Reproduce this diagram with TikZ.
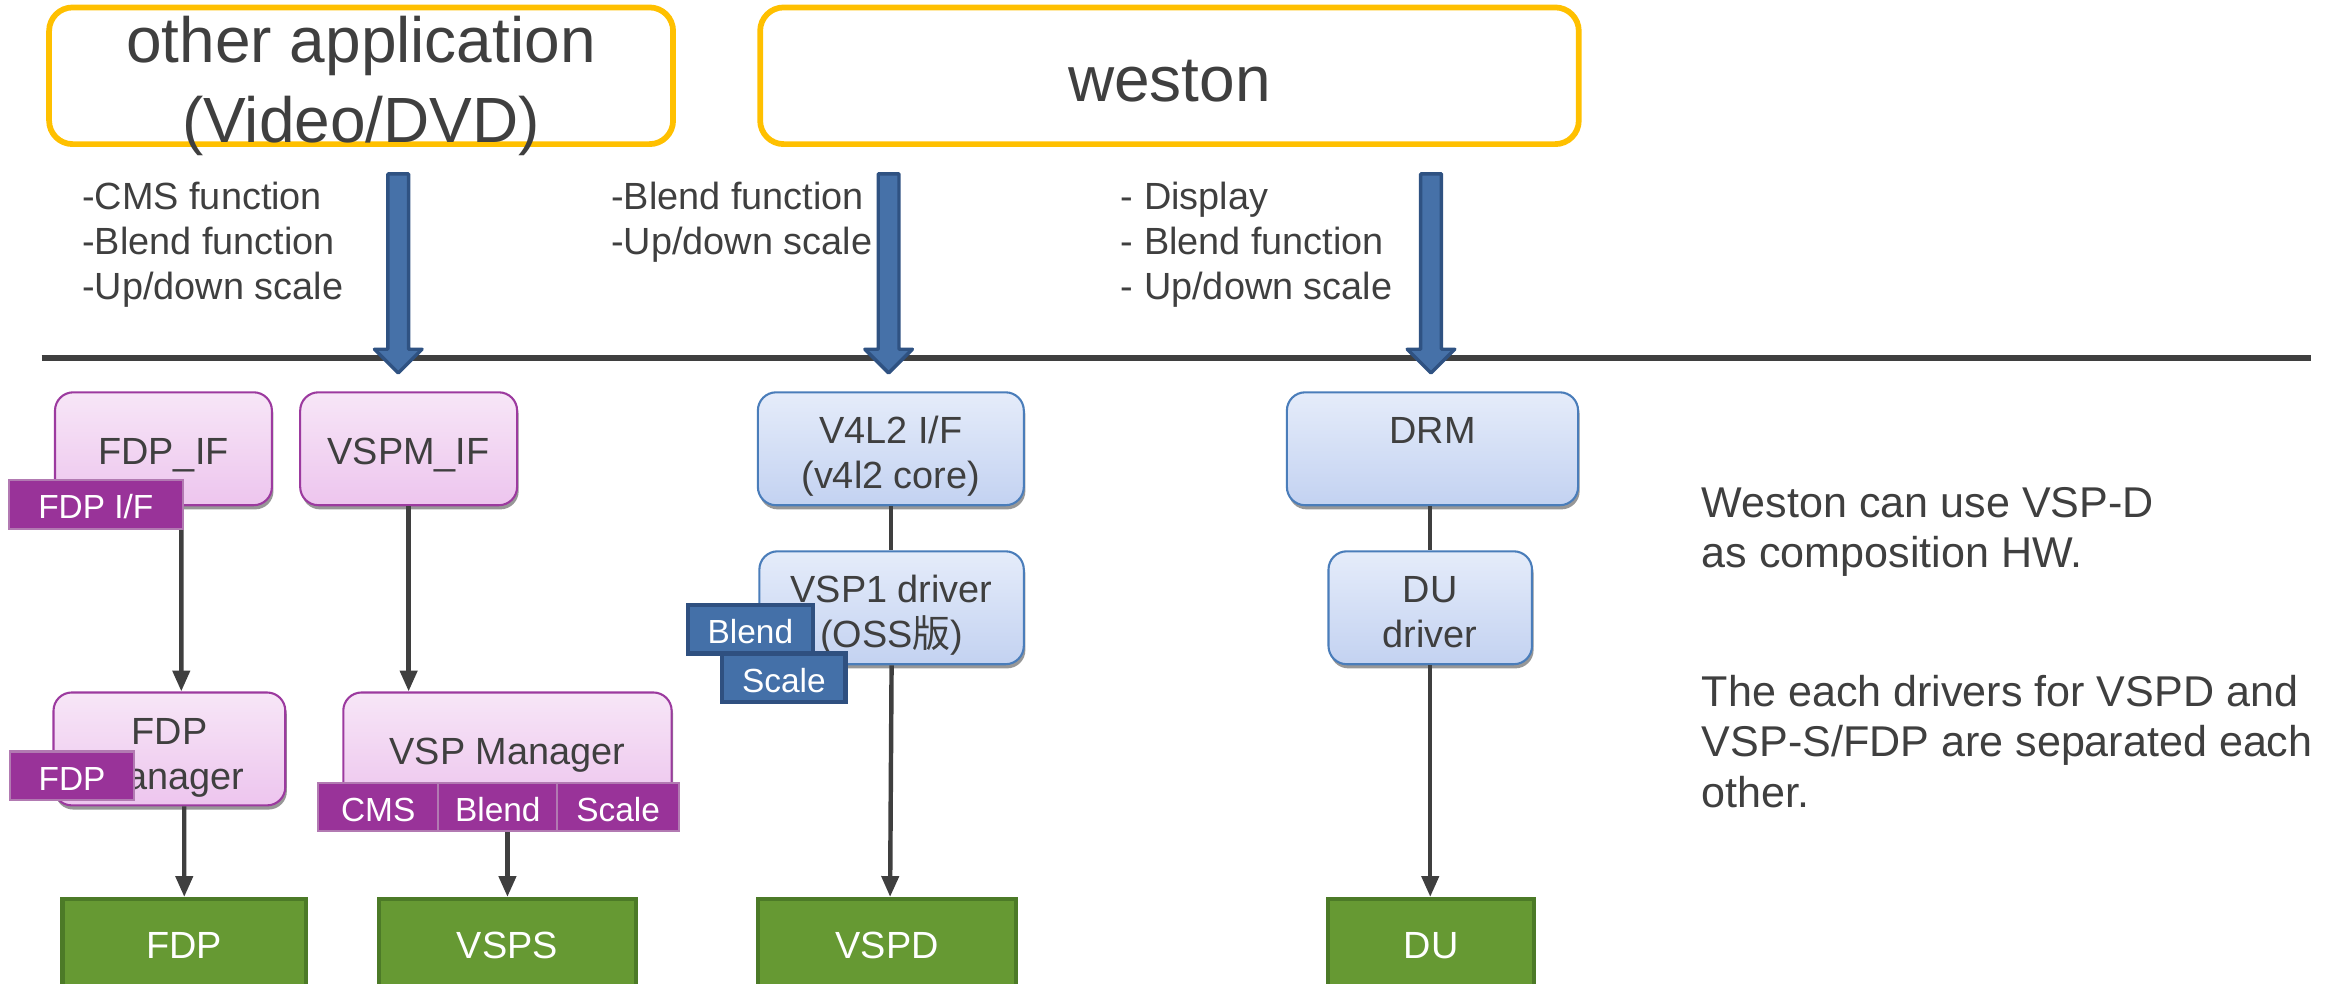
\documentclass[tikz,border=0pt]{standalone}
\usepackage{fontspec}
\setmainfont{Liberation Sans}
\newfontfamily\cjkfont{Noto Sans CJK JP}
\usetikzlibrary{arrows.meta,shadows,calc}
\newcommand\lostrut{\rule[-0.212em]{0pt}{1.117em}}
\newcommand\histrut[1]{\rule[-0.212em]{0pt}{\dimexpr 1.117em+#1\relax}}
\newcommand\mtop{\rule{0pt}{\dimexpr 0.905em+3.5pt\relax}}
\definecolor{txt}{HTML}{3F3F3F}
\definecolor{appyellow}{HTML}{FFC000}
\definecolor{barfill}{HTML}{4671A8}
\definecolor{barline}{HTML}{2F5282}
\definecolor{pinktop}{HTML}{F7E6F7}
\definecolor{pinkbot}{HTML}{EDC5EE}
\definecolor{pinkline}{HTML}{9C3A9F}
\definecolor{tagpurple}{HTML}{993399}
\definecolor{tagpline}{HTML}{B27AB2}
\definecolor{bluetop}{HTML}{E5ECFA}
\definecolor{bluebot}{HTML}{C3D2F1}
\definecolor{blueline}{HTML}{4A7DBA}
\definecolor{tagblue}{HTML}{4470A8}
\definecolor{tagbline}{HTML}{2F5080}
\definecolor{greenfill}{HTML}{669933}
\definecolor{greenline}{HTML}{4C7A27}
\begin{document}
\begin{tikzpicture}[x=0.02cm,y=-0.02cm,
  basefont/.style={font=\fontsize{14.5}{17.2}\selectfont, text=txt},
  strutted/.style={execute at begin node={\histrut{#1}}, execute at end node=\lostrut},
  strutted/.default=0pt,
  appbox/.style={draw=appyellow, line width=2.2pt, rounded corners=9pt, minimum height=1.84cm},
  titletext/.style={font=\fontsize{24.5}{30.6}\selectfont, text=txt, align=center, strutted, yshift=-1.2pt},
  note/.style={basefont, align=left, anchor=west, inner sep=0pt},
  sidenote/.style={font=\fontsize{16.5}{19.4}\selectfont, text=txt, align=left, anchor=west, inner sep=0pt},
  pinkbox/.style={basefont, align=center, strutted=2pt, draw=pinkline, line width=0.8pt, top color=pinktop, bottom color=pinkbot, rounded corners=7pt, minimum height=1.52cm, inner sep=1pt,
     drop shadow={shadow xshift=0.6pt, shadow yshift=-1.6pt, fill=black!45, opacity=0.9}},
  bluebox/.style={pinkbox, draw=blueline, top color=bluetop, bottom color=bluebot},
  ptag/.style={font=\fontsize{12.8}{15}\selectfont, strutted=2.2pt, text=white, fill=tagpurple, draw=tagpline, line width=0.8pt, minimum height=0.63cm, inner sep=1pt},
  btag/.style={ptag, fill=tagblue, draw=tagbline, line width=1.6pt},
  hwbox/.style={basefont, strutted, text=white, fill=greenfill, draw=greenline, line width=1.6pt, minimum height=1.24cm},
  conn/.style={draw=txt, line width=1.7pt},
  connarr/.style={conn, -{Triangle[length=8pt,width=6.5pt]}},
  barrow/.style={fill=barfill, draw=barline, line width=1.3pt, line join=round},
  bigarrow/.pic={\path[barrow] (-7,117) -- (7,117) -- (7,235) -- (16,235) -- (0,251) -- (-16,235) -- (-7,235) -- cycle;}
]
\clip (0,0) rectangle (1568,662);
\useasboundingbox (0,0) rectangle (1568,662);

% application boxes
\node[appbox, minimum width=8.4cm, label={[titletext, yshift=-2.8pt]center:other application\\(Video/DVD)}] (other) at (243,51) {};
\node[appbox, minimum width=11.02cm, label={[titletext]center:weston}] (weston) at (787,51) {};

% function notes
\node[note] (n1) at (55,164.5) {-CMS function\\-Blend function\\-Up/down scale};
\node[note] (n2) at (411,149.5) {-Blend function\\-Up/down scale};
\node[note] (n3) at (754,164.5) {- Display\\- Blend function\\- Up/down scale};

% separator line
\coordinate (lineL) at (28,241);
\coordinate (lineR) at (1555,241);
\draw[draw=txt, line width=2.3pt] (lineL) -- (lineR);

% big blue arrows
\pic at (268,0) {bigarrow};
\pic at (598,0) {bigarrow};
\pic at (963,0) {bigarrow};

% software boxes
\node[pinkbox, minimum width=2.92cm] (fdpif) at (110,302) {FDP\_IF};
\node[pinkbox, minimum width=2.92cm] (vspmif) at (275,302) {VSPM\_IF};
\node[bluebox, minimum width=3.58cm] (v4l2) at (599.5,302) {\mtop V4L2 I/F\\(v4l2 core)};
\node[bluebox, minimum width=3.92cm] (drm) at (964,302) {\mtop DRM\\~};
\node[bluebox, minimum width=3.56cm] (vsp1) at (600,409) {\mtop VSP1 driver\\(OSS{\cjkfont 版})};
\node[bluebox, minimum width=2.74cm] (dudrv) at (962.5,409) {\mtop DU\\driver};
\node[pinkbox, minimum width=3.12cm] (fdpman) at (114,504) {\mtop FDP\\Manager};
\node[pinkbox, minimum width=4.42cm] (vspman) at (341.5,504) {VSP Manager};

% hardware boxes
\node[hwbox, minimum width=3.28cm] (fdp) at (124,636) {FDP};
\node[hwbox, minimum width=3.46cm] (vsps) at (341.5,636) {VSPS};
\node[hwbox, minimum width=3.48cm] (vspd) at (597,636) {VSPD};
\node[hwbox, minimum width=2.78cm] (du) at (963,636) {DU};

% connectors
\draw[connarr] ([xshift=0.24cm]fdpif.south) -- ([xshift=0.16cm]fdpman.north);
\draw[connarr] (vspmif.south) -- (vspmif.south |- vspman.north);
\draw[conn] (v4l2.south) -- (v4l2.south |- vsp1.north);
\draw[connarr] (vsp1.south) -- ([xshift=0.04cm]vspd.north);
\draw[conn] (dudrv.north |- drm.south) -- (dudrv.north);
\draw[connarr] (dudrv.south) -- (dudrv.south |- du.north);
\draw[connarr] ([xshift=0.2cm]fdpman.south) -- (fdp.north);

% function tags
\node[ptag, minimum width=2.34cm] (tfdpif) at (64.5,339.5) {FDP I/F};
\node[ptag, minimum width=1.66cm] (tfdp) at (48.5,522) {FDP};
\node[ptag, minimum width=1.62cm] (tcms) at (254.5,543) {CMS};
\node[ptag, minimum width=1.60cm] (tblend) at (335,543) {Blend};
\node[ptag, minimum width=1.64cm] (tscale) at (416,543) {Scale};
\node[btag, minimum width=1.68cm] (bblend) at (505,423.5) {Blend};
\node[btag, minimum width=1.66cm] (bscale) at (527.5,456) {Scale};

\draw[connarr] (tblend.south -| vsps.north) -- (vsps.north);

% side notes
\node[sidenote] (s1) at (1145,358) {Weston can use VSP-D\\as composition HW.};
\node[sidenote] (s2) at (1145,499) {The each drivers for VSPD and\\VSP-S/FDP are separated each\\other.};
\end{tikzpicture}
\end{document}
